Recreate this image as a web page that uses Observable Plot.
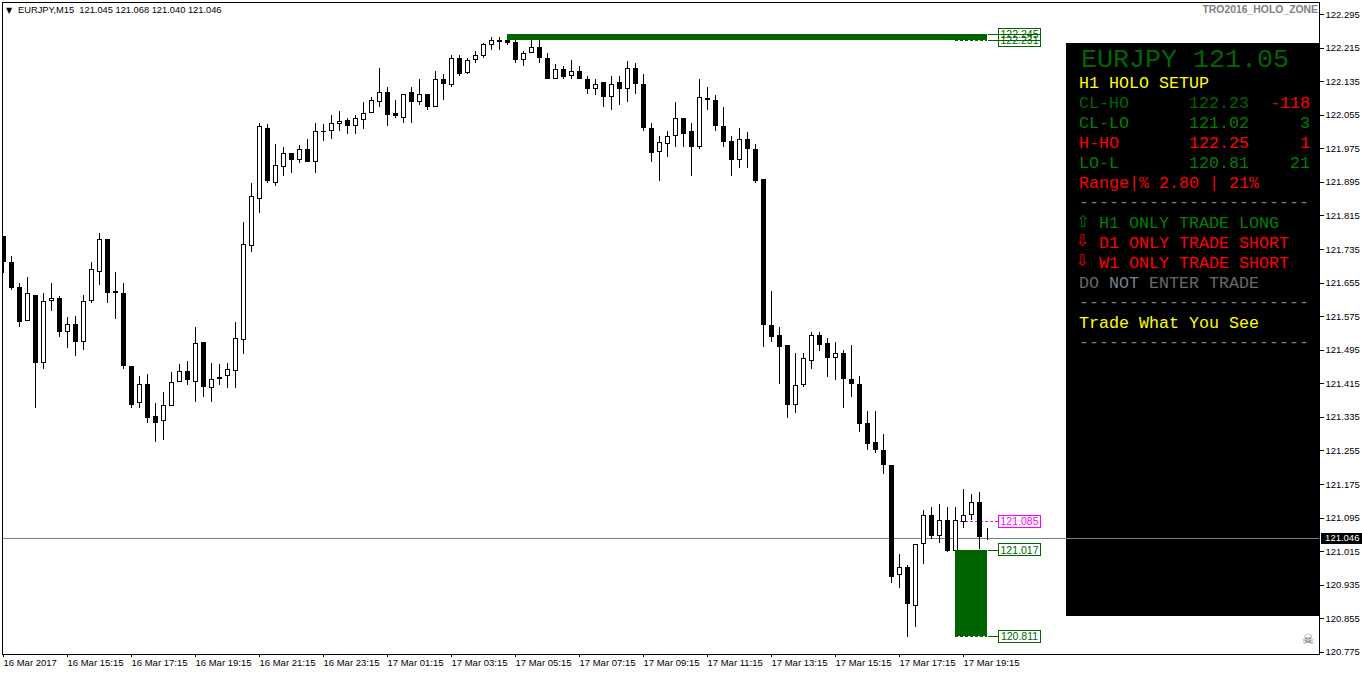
<!DOCTYPE html>
<html><head><meta charset="utf-8">
<script src="https://cdn.jsdelivr.net/npm/d3@7"></script>
<script src="https://cdn.jsdelivr.net/npm/@observablehq/plot@0.6"></script>
<style>
html,body{margin:0;padding:0;background:#fff;overflow:hidden}
svg{display:block}
svg rect,svg line,svg path{shape-rendering:crispEdges}
</style></head><body><div id="chart"></div>
<script>
const opens=[121.764,121.704,121.644,121.563,121.625,121.461,121.609,121.618,121.537,121.554,
121.513,121.609,121.678,121.757,121.633,121.630,121.454,121.368,121.413,121.335,
121.323,121.359,121.418,121.442,121.416,121.513,121.402,121.428,121.430,121.444,
121.516,121.742,121.854,122.023,121.892,121.930,121.962,121.945,121.971,121.942,
122.016,122.014,122.031,122.042,122.026,122.042,122.059,122.083,122.109,122.057,
122.047,122.109,122.083,122.104,122.073,122.140,122.124,122.188,122.154,122.185,
122.193,122.219,122.233,122.231,122.228,122.185,122.200,122.214,122.190,122.140,
122.162,122.145,122.157,122.140,122.116,122.131,122.097,122.131,122.114,122.166,
122.128,122.023,121.964,121.983,122.002,122.047,122.014,121.978,122.093,122.090,
122.028,121.992,121.945,121.997,121.971,121.900,121.552,121.530,121.506,121.363,
121.409,121.468,121.528,121.509,121.475,121.487,121.423,121.413,121.318,121.273,
121.256,121.220,120.956,120.975,120.884,121.030,121.101,121.049,121.089,121.015,
121.084,121.101,121.132,121.045];
const closes=[121.702,121.640,121.561,121.628,121.463,121.611,121.618,121.537,121.554,121.513,
121.609,121.685,121.757,121.630,121.628,121.454,121.363,121.411,121.330,121.318,
121.361,121.418,121.442,121.421,121.509,121.404,121.423,121.423,121.447,121.521,
121.745,121.859,122.026,121.895,121.935,121.962,121.945,121.971,121.942,122.016,
122.012,122.033,122.040,122.026,122.045,122.059,122.088,122.109,122.052,122.050,
122.102,122.085,122.104,122.073,122.140,122.126,122.188,122.152,122.185,122.197,
122.222,122.233,122.228,122.224,122.185,122.202,122.216,122.188,122.140,122.162,
122.143,122.157,122.138,122.114,122.128,122.097,122.128,122.116,122.166,122.126,
122.021,121.962,121.988,122.004,122.047,122.009,121.976,122.097,122.088,122.026,
121.988,121.945,121.997,121.971,121.897,121.552,121.525,121.501,121.363,121.409,
121.473,121.528,121.506,121.473,121.485,121.423,121.411,121.316,121.270,121.256,
121.218,120.953,120.975,120.887,121.030,121.101,121.049,121.089,121.015,121.087,
121.101,121.130,121.047,121.046];
const highs=[121.764,121.716,121.652,121.666,121.625,121.628,121.652,121.621,121.571,121.575,
121.625,121.704,121.771,121.757,121.678,121.652,121.456,121.430,121.435,121.366,
121.392,121.440,121.459,121.468,121.549,121.513,121.461,121.459,121.463,121.559,
121.797,121.890,122.035,122.031,121.983,121.976,121.962,121.981,121.997,122.033,
122.031,122.054,122.062,122.047,122.054,122.083,122.097,122.166,122.121,122.088,
122.102,122.121,122.138,122.104,122.157,122.152,122.197,122.195,122.190,122.205,
122.224,122.240,122.238,122.245,122.231,122.205,122.233,122.233,122.200,122.174,
122.169,122.183,122.171,122.147,122.140,122.131,122.147,122.147,122.181,122.176,
122.152,122.033,122.004,122.016,122.083,122.047,122.035,122.138,122.121,122.100,
122.071,122.004,122.021,122.012,121.985,121.900,121.633,121.547,121.506,121.487,
121.485,121.535,121.537,121.521,121.511,121.492,121.506,121.430,121.347,121.347,
121.294,121.220,121.006,120.980,121.032,121.113,121.120,121.125,121.118,121.118,
121.161,121.151,121.154,121.068];
const lows=[121.676,121.637,121.547,121.563,121.354,121.449,121.585,121.525,121.499,121.480,
121.494,121.606,121.647,121.604,121.568,121.449,121.354,121.354,121.318,121.275,
121.278,121.359,121.416,121.409,121.370,121.380,121.370,121.409,121.402,121.402,
121.483,121.726,121.819,121.890,121.883,121.907,121.916,121.938,121.942,121.916,
121.990,121.997,122.014,122.007,122.007,122.019,122.057,122.073,122.028,122.045,
122.035,122.033,122.076,122.064,122.073,122.088,122.119,122.147,122.150,122.176,
122.190,122.207,122.209,122.219,122.178,122.171,122.200,122.178,122.138,122.140,
122.140,122.138,122.138,122.102,122.100,122.071,122.064,122.076,122.085,122.102,
122.014,121.942,121.897,121.952,121.976,121.978,121.907,121.971,122.066,122.014,
121.976,121.907,121.926,121.928,121.892,121.501,121.513,121.413,121.332,121.342,
121.404,121.447,121.490,121.428,121.421,121.356,121.382,121.297,121.254,121.247,
121.197,120.939,120.927,120.810,120.834,120.984,121.042,121.034,121.011,121.015,
121.070,121.087,121.018,121.040];
const priceTicks=[122.295,122.215,122.135,122.055,121.975,121.895,121.815,121.735,121.655,121.575,121.495,121.415,121.335,121.255,121.175,121.095,121.015,120.935,120.855,120.775];
const timeLabels=["16 Mar 2017","16 Mar 15:15","16 Mar 17:15","16 Mar 19:15","16 Mar 21:15","16 Mar 23:15","17 Mar 01:15","17 Mar 03:15","17 Mar 05:15","17 Mar 07:15","17 Mar 09:15","17 Mar 11:15","17 Mar 13:15","17 Mar 15:15","17 Mar 17:15","17 Mar 19:15"];
const lastPrice=121.046;
const holoLevels=[122.245,122.231,121.017,120.811];
const holoLabels=["122.245","122.231","121.017","120.811"];
const holoMid=121.085;
const headerText="EURJPY,M15  121.045 121.068 121.040 121.046";
const cornerText="TRO2016_HOLO_ZONE";
const panelTitle="EURJPY 121.05";
const panelNames=["CL-HO","CL-LO","H-HO","LO-L"];
const panelPrices=["122.23","121.02","122.25","120.81"];
const panelPips=["-118","3","1","21"];
const rangeLine="Range|% 2.80 | 21%";
const tfLines=["H1 ONLY TRADE LONG","D1 ONLY TRADE SHORT","W1 ONLY TRADE SHORT"];
const dashes="-----------------------";

const candles=opens.map((o,i)=>({i,o,c:closes[i],h:highs[i],l:lows[i],lo:Math.min(o,closes[i]),hi:Math.max(o,closes[i])}));
const bear=candles.filter(d=>d.c<d.o), bull=candles.filter(d=>d.c>=d.o);
const half=2.5/8, bar=d=>d.i-half, barEnd=d=>d.i+half;
const xEnd=164.5, lastIdx=123, zoneA=63, zoneB=119;
const boxL=124.375, boxR=129.625, connL=123.125, boxMid=127;
const panelL=132.85;
const green="#006400", green2="#008000", red="#ff0000", yellow="#ffff00", slate="#708090", dim="#696969", mag="#ff00ff";
const mono="'Liberation Mono',monospace", sans="'Liberation Sans',sans-serif";

function t(s,px,py,fill,size,extra={}){
  return Plot.text([s],{text:d=>d,frameAnchor:"top-left",dx:px-2.5,dy:py-2.5,fill,fontSize:size,fontFamily:mono,lineAnchor:"middle",textAnchor:"start",...extra});
}
const rowY=k=>83+20*k;
const arrow={fontFamily:"'DejaVu Sans'",textAnchor:"middle"};
const panelMarks=[
  t(panelTitle,1081,58,green,26.67),
  t("H1 HOLO SETUP",1079,rowY(0),yellow,16.67),
  ...panelNames.flatMap((n,k)=>{
    const col=k===2?red:(k===0?green:green2);
    return [t(n,1079,rowY(k+1),col,16.67),
      t(panelPrices[k],1189,rowY(k+1),col,16.67),
      t(panelPips[k],1310,rowY(k+1),k===0||k===2?red:green2,16.67,{textAnchor:"end"})];
  }),
  t(rangeLine,1079,rowY(5),red,16.67),
  t(dashes,1079,rowY(6)-1,slate,16.67),
  t("⇧",1083,rowY(7)-1,green2,16,arrow),
  t("⇩",1082,rowY(8)-2,red,16,arrow),
  t("⇩",1082,rowY(9)-2,red,16,arrow),
  t(tfLines[0],1099,rowY(7),green2,16.67),
  t(tfLines[1],1099,rowY(8),red,16.67),
  t(tfLines[2],1099,rowY(9),red,16.67),
  t("DO",1079,rowY(10),dim,16.67),
  t("NOT",1109,rowY(10),slate,16.67),
  t("ENTER TRADE",1149,rowY(10),dim,16.67),
  t(dashes,1079,rowY(11)-1,slate,16.67),
  t("Trade What You See",1079,rowY(12),yellow,16.67),
  t(dashes,1079,rowY(13)-1,slate,16.67)
];

const plot=Plot.plot({
  width:1362,height:675,marginLeft:2,marginTop:2,marginRight:43,marginBottom:21,
  style:{background:"#fff",fontFamily:sans,fontSize:"10px",color:"#000",overflow:"visible"},
  x:{domain:[-0.125,xEnd],range:[2,1319],axis:null},
  y:{domain:[120.7687,122.3224],range:[654,2],axis:null},
  marks:[
    Plot.ruleY([lastPrice],{stroke:slate,strokeWidth:1}),
    Plot.ruleY([holoMid],{x1:zoneB,x2:boxL,stroke:mag,strokeWidth:1,strokeDasharray:"3,2"}),
    Plot.ruleX(candles,{x:"i",y1:"l",y2:"h",stroke:"#000",strokeWidth:1,clip:true}),
    Plot.rect(bear,{x1:bar,x2:barEnd,y1:"lo",y2:"hi",fill:"#000",clip:true}),
    Plot.rect(bull,{x1:bar,x2:barEnd,y1:"lo",y2:"hi",fill:"#fff",stroke:"#000",strokeWidth:1,inset:0.5,clip:true}),
    Plot.rect([0],{x1:zoneA,x2:lastIdx,y1:holoLevels[1],y2:holoLevels[0],fill:green}),
    Plot.rect([0],{x1:zoneB,x2:lastIdx,y1:holoLevels[3],y2:holoLevels[2],fill:green}),
    Plot.ruleY([holoLevels[1],holoLevels[3]],{x1:zoneB,x2:lastIdx,stroke:green,strokeDasharray:"3,2"}),
    Plot.ruleY(holoLevels,{x1:connL,x2:boxL,stroke:green}),
    Plot.rect(holoLevels,{x1:boxL,x2:boxR,y1:d=>d,y2:d=>d,insetTop:-6,insetBottom:-6,fill:"none",stroke:green}),
    Plot.text(holoLevels,{x:boxMid,y:d=>d,text:(d,i)=>holoLabels[i],fill:green,fontSize:10.5,fontFamily:sans}),
    Plot.rect([holoMid],{x1:boxL,x2:boxR,y1:d=>d,y2:d=>d,insetTop:-6,insetBottom:-6,fill:"none",stroke:mag}),
    Plot.text([holoMid],{x:boxMid,y:d=>d,text:d=>d.toFixed(3),fill:mag,fontSize:10.5,fontFamily:sans}),
    Plot.rect([0],{x1:panelL,x2:xEnd,y1:120.860,y2:122.224,fill:"#000"}),
    ...panelMarks,
    Plot.ruleY([lastPrice],{x1:panelL,x2:xEnd,stroke:slate}),
    Plot.frame({stroke:"#000"}),
    Plot.axisY(priceTicks,{anchor:"right",tickSize:4,tickPadding:2,tickFormat:d=>d.toFixed(3),fontSize:9.5,fontFamily:sans,label:null,dy:0.5}),
    Plot.axisX(timeLabels.map((_,k)=>k*8),{anchor:"bottom",tickSize:3,tickPadding:2,tickFormat:i=>timeLabels[i/8],textAnchor:"start",fontSize:9.5,fontFamily:sans,label:null}),
    Plot.rect([lastPrice],{x1:164.75,x2:169.875,y1:d=>d,y2:d=>d,insetTop:-5,insetBottom:-6,fill:"#000"}),
    Plot.text([lastPrice],{x:165.2,y:d=>d,text:d=>d.toFixed(3),fill:"#fff",fontSize:9.5,textAnchor:"start",fontFamily:sans}),
    t("▼",9,10,"#000",8,arrow),
    t(headerText,18,10,"#000",9.3,{fontFamily:sans}),
    t(cornerText,1318,10,"#808080",10.4,{fontFamily:sans,fontWeight:"bold",textAnchor:"end"}),
    t("☠",1308,640,"#606060",14,arrow)
  ]
});
document.getElementById("chart").append(plot);
</script></body></html>
